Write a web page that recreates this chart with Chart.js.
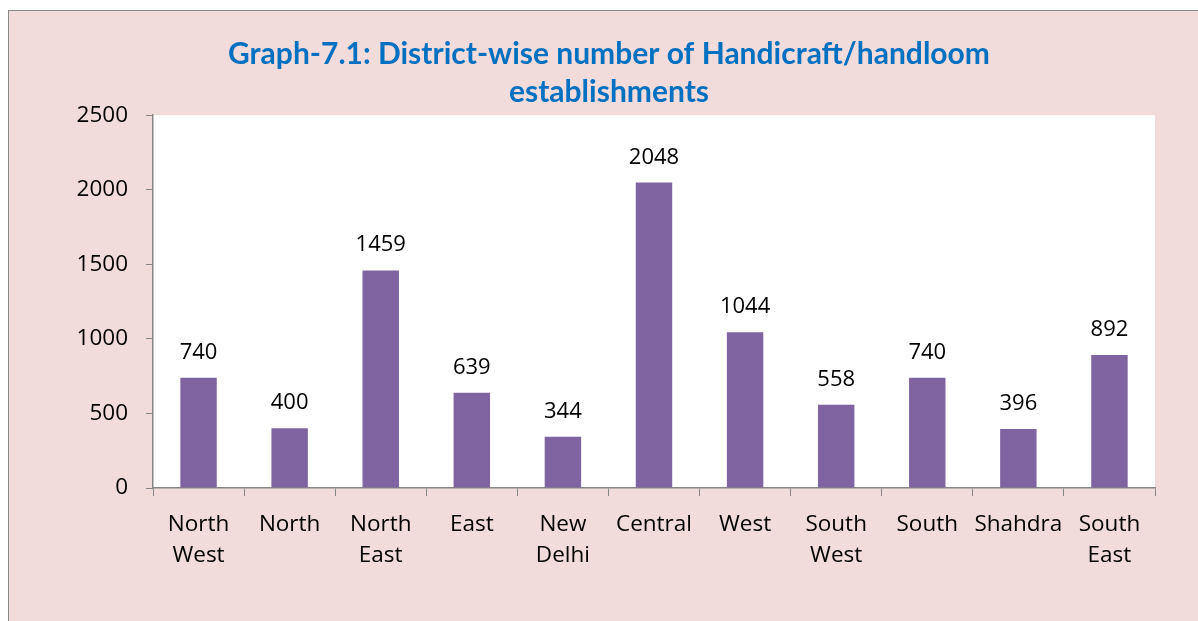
<!DOCTYPE html>
<html><head><meta charset="utf-8">
<script src="https://cdn.jsdelivr.net/npm/chart.js@4.4.1/dist/chart.umd.min.js"></script>
<style>
html,body{margin:0;padding:0;background:#fff;overflow:hidden;width:1198px;height:621px;}
#box{position:absolute;left:8px;top:10px;width:1200px;height:620px;background:#F2DCDB;border-left:1.5px solid #8a8a8a;border-top:1.5px solid #8a8a8a;}
canvas{display:block;}
</style></head>
<body>
<div id="box"><canvas id="c" width="1200" height="620"></canvas></div>
<script>
const categories = [["North","West"],"North",["North","East"],"East",["New","Delhi"],"Central","West",["South","West"],"South","Shahdra",["South","East"]];
const establishments = [740,400,1459,639,344,2048,1044,558,740,396,892];
const yTicks = [0,500,1000,1500,2000,2500];
const titleLines = ["Graph-7.1: District-wise number of Handicraft/handloom","establishments"];

const TFONT = "Lato, 'Open Sans', sans-serif";
const FONT = "'Open Sans', Lato, sans-serif";
const valueLabels = {
  id:'valueLabels',
  afterDatasetsDraw(chart){
    const ctx = chart.ctx;
    const meta = chart.getDatasetMeta(0);
    ctx.save();
    ctx.font = "22px " + FONT;
    ctx.fillStyle = "#000";
    ctx.textAlign = "center";
    ctx.textBaseline = "alphabetic";
    meta.data.forEach((bar,i)=>{
      ctx.fillText(String(establishments[i]), bar.x, bar.y - 19);
    });
    ctx.restore();
  }
};
const plotBg = {
  id:'plotBg',
  beforeDraw(chart){
    const {ctx, chartArea:a} = chart;
    ctx.save(); ctx.fillStyle="#fff"; ctx.fillRect(a.left,a.top,a.right-a.left,a.bottom-a.top); ctx.restore();
  }
};
new Chart(document.getElementById('c'),{
  type:'bar',
  data:{labels:categories,datasets:[{data:establishments,backgroundColor:'#8064A2',barPercentage:1,categoryPercentage:0.4}]},
  options:{
    responsive:false,animation:false,
    layout:{padding:{left:54,right:54,top:0,bottom:0}},
    plugins:{
      legend:{display:false},tooltip:{enabled:false},
      title:{display:true,text:titleLines,color:'#0070C0',font:{family:TFONT,size:30,weight:'bold',lineHeight:1.27},padding:{top:24,bottom:4}}
    },
    scales:{
      x:{
        grid:{offset:true,drawOnChartArea:false,drawTicks:true,tickLength:8,color:'#868686'},
        border:{display:true,color:'#868686',width:1.5},
        ticks:{color:'#000',font:{family:FONT,size:22.5,lineHeight:1.38},padding:13,maxRotation:0,autoSkip:false},
        afterFit(s){s.height=143;}
      },
      y:{
        min:0,max:2500,
        afterBuildTicks(s){s.ticks=yTicks.map(v=>({value:v}));},
        grid:{drawOnChartArea:false,drawTicks:true,tickLength:7,color:'#868686'},
        border:{display:true,color:'#868686',width:1.5},
        ticks:{color:'#000',font:{family:FONT,size:22.5},padding:18,callback:(v)=>String(v)},
        afterFit(s){s.width=90;}
      }
    }
  },
  plugins:[plotBg,valueLabels]
});
</script>
</body></html>
